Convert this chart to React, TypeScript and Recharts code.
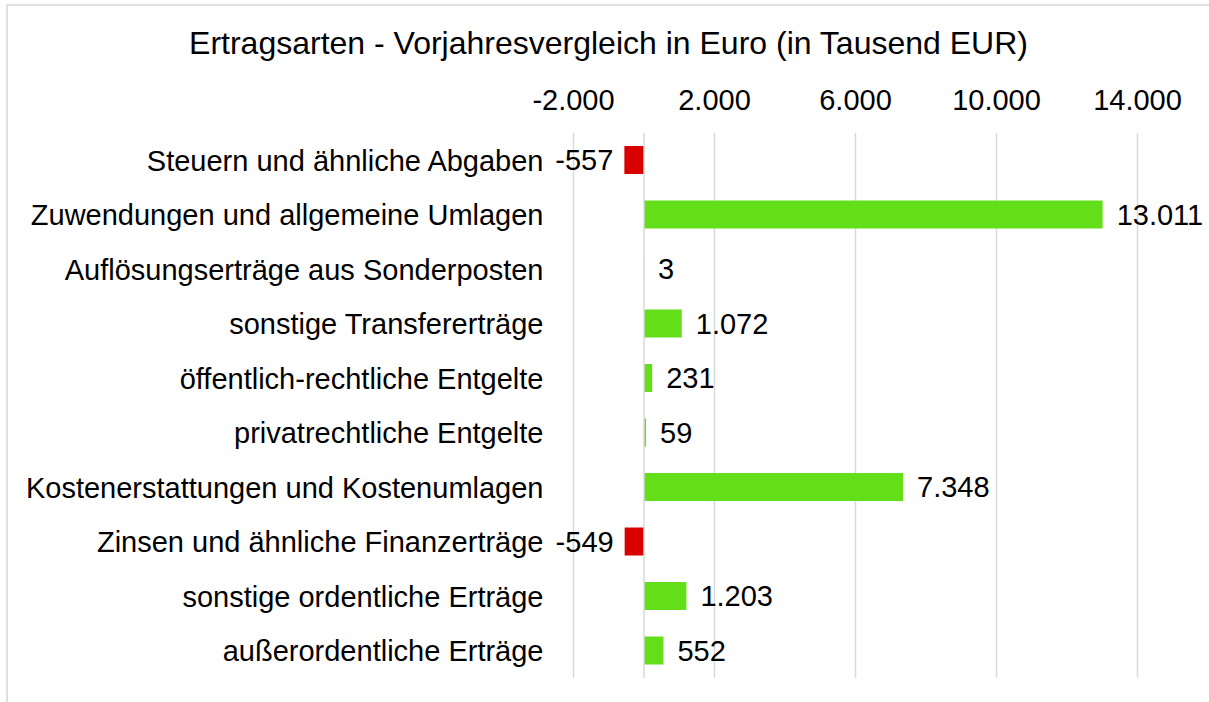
import { Bar, BarChart, CartesianGrid, Cell, LabelList, ReferenceLine, XAxis, YAxis } from "recharts";

const categories = [
    "Steuern und ähnliche Abgaben",
    "Zuwendungen und allgemeine Umlagen",
    "Auflösungserträge aus Sonderposten",
    "sonstige Transfererträge",
    "öffentlich-rechtliche Entgelte",
    "privatrechtliche Entgelte",
    "Kostenerstattungen und Kostenumlagen",
    "Zinsen und ähnliche Finanzerträge",
    "sonstige ordentliche Erträge",
    "außerordentliche Erträge",
];

const values = [-557, 13011, 3, 1072, 231, 59, 7348, -549, 1203, 552];

const xTicks = [-2000, 2000, 6000, 10000, 14000];

const data = categories.map((name, i) => ({ name, value: values[i] }));

const FONT = '"Liberation Sans", Arial, sans-serif';

// Tausenderpunkt wie im Original
function formatDe(v: number) {
    const s = Math.abs(Math.round(v)).toString().replace(/\B(?=(\d{3})+(?!\d))/g, ".");
    return (v < 0 ? "-" : "") + s;
}

function ValueLabel(props: any) {
    const { x, y, width, height, value } = props;
    const left = Math.min(x, x + width);
    const right = Math.max(x, x + width);
    const neg = value < 0;
    return (
        <text
            x={neg ? left - 11 : right + 14}
            y={y + height / 2}
            dy="0.36em"
            textAnchor={neg ? "end" : "start"}
            fontSize={29}
            fontFamily={FONT}
            fill="#000"
        >
            {formatDe(value)}
        </text>
    );
}

export default function App() {
    return (
        <div style={{ position: "absolute", left: 0, top: 0, width: 1209, height: 702, background: "#fff", overflow: "hidden" }}>
            <div
                style={{
                    position: "absolute",
                    left: 6,
                    top: 4,
                    width: 1240,
                    height: 740,
                    border: "2px solid #e0e0e0",
                }}
            />
            <div
                style={{
                    position: "absolute",
                    left: 4,
                    top: 27,
                    width: 1209,
                    textAlign: "center",
                    fontFamily: FONT,
                    fontSize: 32,
                    lineHeight: "32px",
                    color: "#000",
                    whiteSpace: "nowrap",
                }}
            >
                Ertragsarten - Vorjahresvergleich in Euro (in Tausend EUR)
            </div>
            <div style={{ position: "absolute", left: 0, top: 0 }}>
                <BarChart
                    width={1209}
                    height={702}
                    data={data}
                    layout="vertical"
                    barSize={28}
                    margin={{ top: 0, right: 71.5, bottom: 24, left: 0 }}
                >
                    <CartesianGrid horizontal={false} stroke="#d9d9d9" strokeWidth={1.5} />
                    <XAxis
                        type="number"
                        orientation="top"
                        domain={[-2000, 14000]}
                        ticks={xTicks}
                        tickFormatter={formatDe}
                        height={133}
                        axisLine={false}
                        tickLine={false}
                        tickSize={0}
                        tickMargin={23}
                        tick={{ fontSize: 29, fontFamily: FONT, fill: "#000" }}
                        interval={0}
                    />
                    <YAxis
                        type="category"
                        dataKey="name"
                        width={573.5}
                        axisLine={false}
                        tickLine={false}
                        tickSize={0}
                        tickMargin={30}
                        tick={{ fontSize: 29, fontFamily: FONT, fill: "#000" }}
                        interval={0}
                    />
                    <ReferenceLine x={0} stroke="#d9d9d9" strokeWidth={1.5} />
                    <Bar dataKey="value" isAnimationActive={false}>
                        {data.map((d) => (
                            <Cell key={d.name} fill={d.value < 0 ? "#d90000" : "#63df19"} />
                        ))}
                        <LabelList dataKey="value" content={ValueLabel} />
                    </Bar>
                </BarChart>
            </div>
        </div>
    );
}
